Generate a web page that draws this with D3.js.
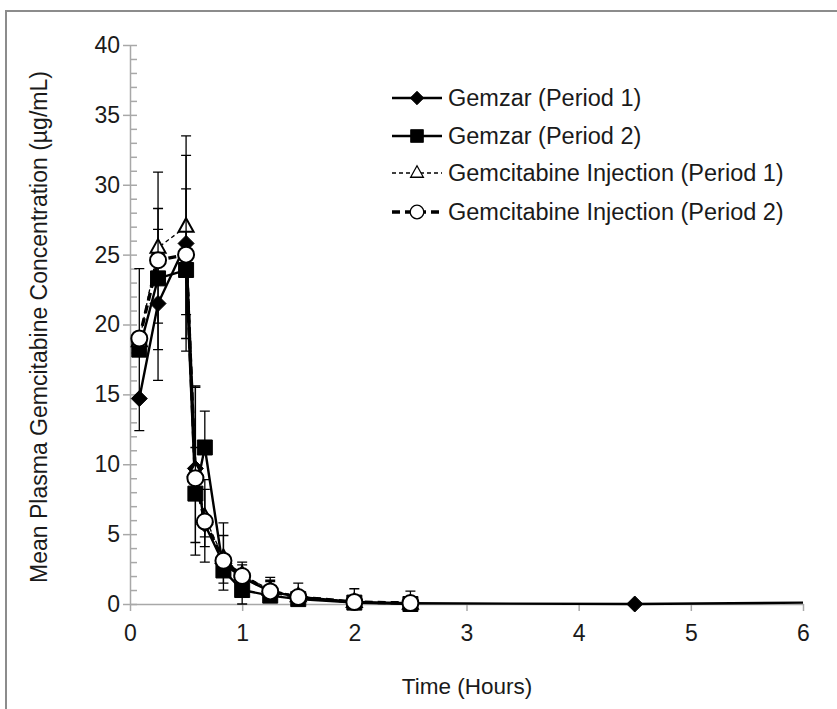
<!DOCTYPE html>
<html>
<head>
<meta charset="utf-8">
<script src="https://cdn.jsdelivr.net/npm/d3@7"></script>
<style>
  body { margin: 0; background: #fff; }
  text { font-family: "Liberation Sans", Arial, sans-serif; fill: #1a1a1a; }
</style>
</head>
<body>
<div id="chart"></div>
<script>
// sampling times in hours
let times = [0.083, 0.25, 0.5, 0.583, 0.667, 0.833, 1, 1.25, 1.5, 2, 2.5];
let gemzarP1Times = times.concat([4.5, 6]);

// mean concentrations (ug/mL)
let gemzarP1 = [14.7, 21.5, 25.8, 9.7, 5.7, 2.9, 1.9, 0.9, 0.5, 0.15, 0.05, 0, 0.1];
let gemzarP2 = [18.2, 23.3, 23.9, 7.9, 11.2, 2.4, 1.0, 0.6, 0.35, 0.1, 0.0];
let injP1 = [18.8, 25.5, 27.0, 9.5, 6.2, 3.3, 2.1, 1.0, 0.55, 0.15, 0.02];
let injP2 = [19.0, 24.6, 25.0, 9.0, 5.9, 3.1, 2.0, 0.9, 0.5, 0.14, 0.07];

// error bars as drawn (upper / lower extent, 0 = none)
let gemzarP1Up = [0, 0, 3.9, 5.9, 2.5, 0, 0, 0.7, 0, 0, 0, 0, 0];
let gemzarP1Down = [0, 5.5, 7.7, 6.2, 2.7, 1.4, 0, 0, 0, 0, 0, 0, 0];
let gemzarP2Up = [0, 5.0, 0, 3.3, 2.6, 0, 0, 0, 0, 0, 0];
let gemzarP2Down = [5.8, 5.1, 4.9, 0, 0, 1.4, 1.0, 0, 0, 0, 0];
let injP1Up = [0, 5.4, 6.5, 0, 0, 2.5, 0.9, 0.9, 0, 0, 0];
let injP1Down = [0, 5.4, 6.3, 0, 1.4, 0, 0, 0, 0, 0, 0];
let injP2Up = [5.0, 2.2, 7.1, 6.5, 3.0, 1.8, 0.8, 0.8, 1.0, 0.95, 0.85];
let injP2Down = [0, 0, 0, 4.6, 1.8, 0, 0, 0, 0, 0, 0];

let seriesNames = ["Gemzar (Period 1)", "Gemzar (Period 2)",
  "Gemcitabine Injection (Period 1)", "Gemcitabine Injection (Period 2)"];

let xTicks = [0, 1, 2, 3, 4, 5, 6];
let yTicks = [0, 5, 10, 15, 20, 25, 30, 35, 40];

let width = 837, height = 709;

let svg = d3.select("#chart")
    .append("svg")
    .attr("width", width)
    .attr("height", height);

// chart area border (cut off on right / bottom like the source)
svg.append("rect")
    .attr("x", 6).attr("y", 11)
    .attr("width", 900).attr("height", 800)
    .attr("fill", "none")
    .attr("stroke", "#8c8c8c")
    .attr("stroke-width", 2);

let x = d3.scaleLinear().domain([0, 6]).range([130, 803]);
let y = d3.scaleLinear().domain([0, 40]).range([604, 45]);

// y axis: major ticks outside, minor ticks inside every 1
svg.append("g")
    .attr("transform", "translate(" + x(0) + ",0)")
    .call(d3.axisLeft(y).tickValues(yTicks).tickFormat(d3.format("d"))
        .tickSizeInner(7).tickSizeOuter(0).tickPadding(3));

svg.append("g")
    .attr("transform", "translate(" + x(0) + ",0)")
    .call(d3.axisRight(y).tickValues(d3.range(0, 41, 1)).tickSize(7).tickFormat(""))
    .call(g => g.select(".domain").remove());

svg.append("g")
    .attr("transform", "translate(0," + y(0) + ")")
    .call(d3.axisBottom(x).tickValues(xTicks).tickFormat(d3.format("d"))
        .tickSizeInner(7).tickSizeOuter(0).tickPadding(14));

svg.selectAll(".domain, .tick line")
    .attr("stroke", "#a8a8a8")
    .attr("stroke-width", 1.5);

svg.selectAll(".tick text")
    .attr("font-size", "23px")
    .attr("font-family", "Liberation Sans, Arial, sans-serif")
    .attr("fill", "#1a1a1a");

// axis titles
svg.append("text")
    .attr("transform", "translate(47,327) rotate(-90)")
    .attr("text-anchor", "middle")
    .attr("font-size", "23px")
    .text("Mean Plasma Gemcitabine Concentration (\u00b5g/mL)");

svg.append("text")
    .attr("x", 467).attr("y", 694)
    .attr("text-anchor", "middle")
    .attr("font-size", "22.5px")
    .text("Time (Hours)");

function markerPath(shape) {
    if (shape == "diamond") return "M0,-8L8,0L0,8L-8,0Z";
    if (shape == "square") return "M-7.5,-7.5H7.5V7.5H-7.5Z";
    if (shape == "triangle") return "M0,-8.5L7.5,5L-7.5,5Z";
    let p = d3.path();
    p.arc(0, 0, 8, 0, 2 * Math.PI);
    return p.toString();
}

let series = [
    { name: seriesNames[0], t: gemzarP1Times, v: gemzarP1, up: gemzarP1Up, down: gemzarP1Down,
      shape: "diamond", fill: "#000", lw: 2.4, dash: null },
    { name: seriesNames[1], t: times, v: gemzarP2, up: gemzarP2Up, down: gemzarP2Down,
      shape: "square", fill: "#000", lw: 2.4, dash: null },
    { name: seriesNames[2], t: times, v: injP1, up: injP1Up, down: injP1Down,
      shape: "triangle", fill: "#fff", lw: 1.3, dash: "4,3" },
    { name: seriesNames[3], t: times, v: injP2, up: injP2Up, down: injP2Down,
      shape: "circle", fill: "#fff", lw: 3.4, dash: "8,5" }
];

let line = d3.line().x(d => x(d.t)).y(d => y(d.v));

let plot = svg.append("g");

series.forEach(function (s) {
    let pts = s.t.map((t, i) => ({ t: t, v: s.v[i], up: s.up[i], down: s.down[i] }));
    let g = plot.append("g");

    // error bars
    let bars = [];
    pts.forEach(function (p) {
        if (p.up > 0) bars.push({ t: p.t, a: p.v, b: p.v + p.up });
        if (p.down > 0) bars.push({ t: p.t, a: p.v, b: p.v - p.down });
    });
    g.selectAll(".eb")
        .data(bars)
        .enter()
        .append("path")
        .attr("d", d => "M" + x(d.t) + "," + y(d.a) + "V" + y(d.b) +
            "M" + (x(d.t) - 5) + "," + y(d.b) + "H" + (x(d.t) + 5))
        .attr("stroke", "#000")
        .attr("stroke-width", 1.3)
        .attr("fill", "none");

    g.append("path")
        .datum(pts)
        .attr("d", line)
        .attr("fill", "none")
        .attr("stroke", "#000")
        .attr("stroke-width", s.lw)
        .attr("stroke-dasharray", s.dash);

    g.selectAll(".mk")
        .data(pts.filter(p => p.t < 6))
        .enter()
        .append("path")
        .attr("transform", d => "translate(" + x(d.t) + "," + y(d.v) + ")")
        .attr("d", markerPath(s.shape))
        .attr("fill", s.fill)
        .attr("stroke", "#000")
        .attr("stroke-width", s.fill == "#fff" ? 2 : 1);
});

// legend
let legendY = [98, 136, 173, 212];
let legend = svg.append("g");
series.forEach(function (s, i) {
    let row = legend.append("g").attr("transform", "translate(0," + legendY[i] + ")");
    row.append("line")
        .attr("x1", 392).attr("x2", 442)
        .attr("stroke", "#000")
        .attr("stroke-width", s.lw)
        .attr("stroke-dasharray", s.dash);
    row.append("path")
        .attr("transform", "translate(417,0) scale(0.85)")
        .attr("d", markerPath(s.shape))
        .attr("fill", s.fill)
        .attr("stroke", "#000")
        .attr("stroke-width", s.fill == "#fff" ? 1.5 : 1);
    row.append("text")
        .attr("x", 448).attr("y", 0)
        .attr("dy", "0.35em")
        .attr("font-size", "23.5px")
        .text(s.name);
});
</script>
</body>
</html>
